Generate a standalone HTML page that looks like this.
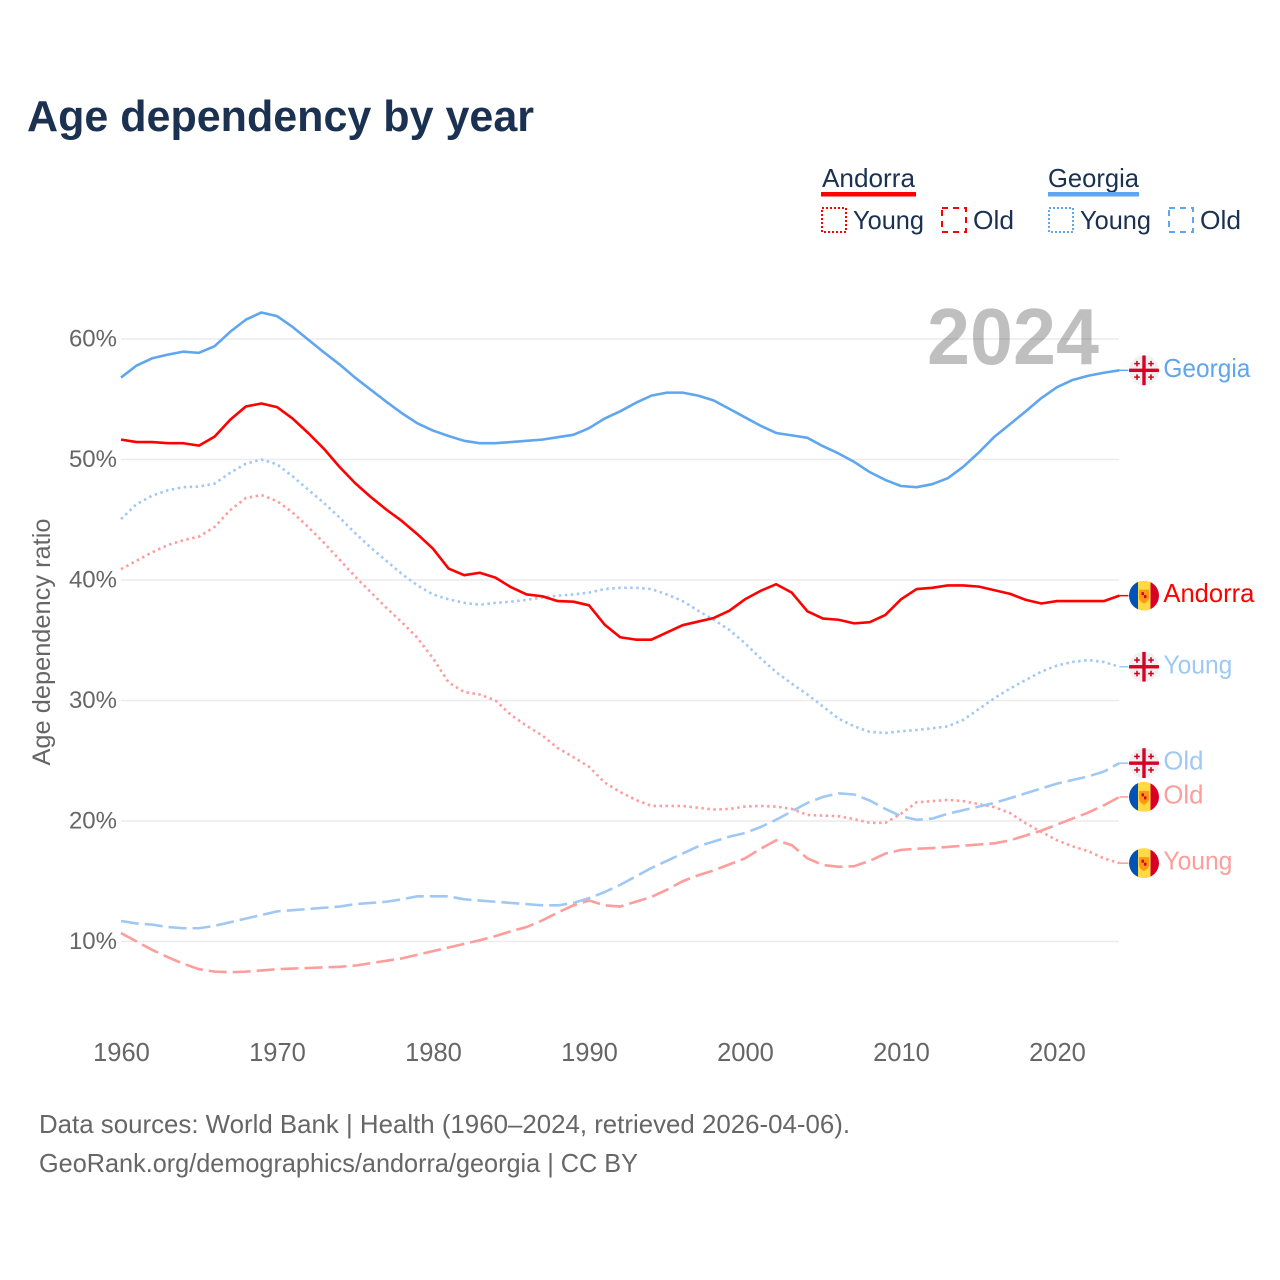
<!DOCTYPE html>
<html lang="en">
<head>
<meta charset="utf-8">
<title>Age dependency by year</title>
<style>
html,body{margin:0;padding:0;background:#fff;}
svg{display:block;font-family:"Liberation Sans",sans-serif;}
</style>
</head>
<body>
<svg id="chart" xmlns="http://www.w3.org/2000/svg" width="1280" height="1280" viewBox="0 0 1280 1280">
  <defs>
    <clipPath id="flag-clip"><circle cx="15" cy="15" r="15"/></clipPath>
    <symbol id="flag-georgia" viewBox="0 0 30 30" width="30" height="30">
      <g clip-path="url(#flag-clip)">
        <rect width="30" height="30" fill="#f0f0f0"/>
        <rect x="13.300" width="3.400" height="30" fill="#d80027"/>
        <rect y="13.300" width="30" height="3.400" fill="#d80027"/>
        <path d="M7.200 5.500h1.600v2h2v1.600h-2v2H7.200v-2h-2V7.500h2zM21.200 5.500h1.600v2h2v1.600h-2v2h-1.600v-2h-2V7.500h2zM7.200 19h1.600v2h2v1.600h-2v2H7.200v-2h-2V21h2zM21.200 19h1.600v2h2v1.600h-2v2h-1.600v-2h-2V21h2z" fill="#d80027"/>
      </g>
    </symbol>
    <symbol id="flag-andorra" viewBox="0 0 30 30" width="30" height="30">
      <g clip-path="url(#flag-clip)">
        <rect width="9" height="30" fill="#0052b4"/>
        <rect x="9" width="12.500" height="30" fill="#ffda44"/>
        <rect x="21.500" width="8.500" height="30" fill="#d80027"/>
        <path d="M10 9h10v8q0 3.500-5 6q-5-2.500-5-6z" fill="#ff9811"/>
        <rect x="12.500" y="11.500" width="2.500" height="3" fill="#d80027"/>
        <rect x="15" y="14.500" width="2.500" height="3" fill="#d80027"/>
      </g>
    </symbol>
  </defs>

  <text x="27" y="131" font-size="44" font-weight="700" fill="#1a3152" textLength="507" lengthAdjust="spacingAndGlyphs">Age dependency by year</text>

  <g fill="#1a3152" font-size="26">
    <g>
      <text x="822" y="187" textLength="93" lengthAdjust="spacingAndGlyphs">Andorra</text>
      <rect x="821" y="192" width="95" height="4.500" fill="#ff0000"/>
      <rect x="822" y="208" width="24" height="24" fill="none" stroke="#ff0000" stroke-width="2" stroke-dasharray="2 2"/>
      <text x="853" y="229" textLength="71" lengthAdjust="spacingAndGlyphs">Young</text>
      <rect x="942" y="208" width="24" height="24" fill="none" stroke="#ff0000" stroke-width="2" stroke-dasharray="6 5"/>
      <text x="973" y="229" textLength="41" lengthAdjust="spacingAndGlyphs">Old</text>
    </g>
    <g>
      <text x="1048" y="187" textLength="91" lengthAdjust="spacingAndGlyphs">Georgia</text>
      <rect x="1048" y="192" width="91" height="4.500" fill="#5fa5ef"/>
      <rect x="1049" y="208" width="24" height="24" fill="none" stroke="#5fa5ef" stroke-width="2" stroke-dasharray="2 2"/>
      <text x="1080" y="229" textLength="71" lengthAdjust="spacingAndGlyphs">Young</text>
      <rect x="1169" y="208" width="24" height="24" fill="none" stroke="#5fa5ef" stroke-width="2" stroke-dasharray="6 5"/>
      <text x="1200" y="229" textLength="41" lengthAdjust="spacingAndGlyphs">Old</text>
    </g>
  </g>

  <g id="grid"></g>
  <text x="927" y="364" font-size="80" font-weight="700" fill="#000" fill-opacity="0.25" textLength="172" lengthAdjust="spacingAndGlyphs">2024</text>
  <g id="y-axis"></g>
  <g id="x-axis"></g>
  <text transform="translate(50 642) rotate(-90)" text-anchor="middle" font-size="25" fill="#666" textLength="247" lengthAdjust="spacingAndGlyphs">Age dependency ratio</text>
  <g id="series"></g>
  <g id="end-labels"></g>

  <g font-size="26" fill="#666">
    <text x="39" y="1133" textLength="811" lengthAdjust="spacingAndGlyphs">Data sources: World Bank | Health (1960–2024, retrieved 2026-04-06).</text>
    <text x="39" y="1172" textLength="599" lengthAdjust="spacingAndGlyphs">GeoRank.org/demographics/andorra/georgia | CC BY</text>
  </g>
</svg>
<script>
const startYear = 1960;
const xTickLabels = [1960, 1970, 1980, 1990, 2000, 2010, 2020];
const yTickLabels = [10, 20, 30, 40, 50, 60];

const georgiaTotal = [
  56.8,57.8,58.4,58.7,58.95,58.85,59.4,60.6,61.6,62.2,
  61.9,61.0,59.95,58.9,57.9,56.8,55.8,54.8,53.85,53.0,
  52.4,51.95,51.55,51.35,51.35,51.45,51.55,51.65,51.85,52.05,
  52.6,53.4,54.0,54.7,55.3,55.55,55.55,55.3,54.9,54.2,
  53.5,52.8,52.2,52.0,51.8,51.1,50.5,49.8,48.95,48.3,
  47.8,47.7,47.95,48.45,49.4,50.6,51.9,52.95,54.0,55.1,
  56.0,56.6,56.95,57.2,57.4
];
const andorraTotal = [
  51.65,51.45,51.45,51.35,51.35,51.15,51.9,53.3,54.4,54.65,
  54.35,53.4,52.2,50.9,49.4,48.05,46.9,45.85,44.9,43.8,
  42.6,40.95,40.4,40.6,40.2,39.4,38.8,38.65,38.25,38.2,
  37.9,36.3,35.25,35.05,35.05,35.65,36.25,36.55,36.85,37.45,
  38.4,39.1,39.65,38.95,37.4,36.8,36.7,36.4,36.5,37.1,
  38.4,39.25,39.35,39.55,39.55,39.45,39.15,38.85,38.35,38.05,
  38.25,38.25,38.25,38.25,38.7
];
const georgiaYoung = [
  45.06,46.3,47.0,47.45,47.7,47.75,48.0,48.9,49.65,50.0,
  49.6,48.6,47.5,46.4,45.2,43.9,42.7,41.6,40.5,39.55,
  38.8,38.4,38.1,37.95,38.1,38.2,38.35,38.55,38.7,38.8,
  38.95,39.25,39.35,39.35,39.25,38.8,38.25,37.45,36.7,35.85,
  34.75,33.5,32.35,31.4,30.5,29.5,28.5,27.85,27.4,27.3,
  27.45,27.55,27.7,27.85,28.4,29.3,30.2,31.0,31.7,32.4,
  32.9,33.2,33.35,33.2,32.8
];
const andorraYoung = [
  40.9,41.6,42.3,42.9,43.3,43.6,44.4,45.8,46.8,47.05,
  46.55,45.6,44.4,43.1,41.7,40.3,39.0,37.7,36.5,35.2,
  33.5,31.5,30.7,30.5,30.0,28.8,27.9,27.1,26.05,25.3,
  24.5,23.2,22.4,21.75,21.25,21.25,21.25,21.1,20.95,21.0,
  21.2,21.25,21.2,21.0,20.5,20.45,20.4,20.15,19.85,19.85,
  20.6,21.55,21.65,21.75,21.65,21.4,21.15,20.65,19.8,19.1,
  18.4,17.9,17.5,16.9,16.5
];
const georgiaOld = [
  11.7,11.5,11.4,11.2,11.1,11.1,11.3,11.6,11.9,12.2,
  12.5,12.6,12.7,12.8,12.9,13.1,13.2,13.3,13.5,13.75,
  13.75,13.75,13.5,13.4,13.3,13.2,13.1,13.0,13.0,13.2,
  13.6,14.1,14.7,15.4,16.1,16.7,17.3,17.9,18.3,18.7,
  19.0,19.5,20.1,20.8,21.5,22.0,22.3,22.2,21.7,21.0,
  20.4,20.1,20.2,20.6,20.9,21.2,21.5,21.9,22.3,22.7,
  23.1,23.4,23.7,24.1,24.8
];
const andorraOld = [
  10.7,10.0,9.3,8.7,8.15,7.7,7.5,7.45,7.5,7.6,
  7.7,7.75,7.8,7.85,7.9,8.0,8.2,8.4,8.6,8.9,
  9.2,9.5,9.8,10.1,10.45,10.85,11.2,11.75,12.4,13.0,
  13.4,13.0,12.9,13.3,13.7,14.3,15.0,15.5,15.9,16.4,
  16.9,17.7,18.4,18.0,16.9,16.35,16.2,16.25,16.7,17.3,
  17.6,17.7,17.75,17.85,17.95,18.05,18.15,18.4,18.8,19.2,
  19.7,20.2,20.7,21.3,22.0
];

const SVG_NS = 'http://www.w3.org/2000/svg';
const xScale = function (year) { return 121 + (year - 1960) * 15.6; };
const yScale = function (value) { return 941.5 - (value - 10) * 12.05; };

const seriesList = [
  { key: 'andorra-old',   values: andorraOld,   color: '#ff9c9c', dash: '18 6',    label: 'Old',     flag: 'flag-andorra', labelWidth: 40 },
  { key: 'andorra-young', values: andorraYoung, color: '#ff9c9c', dash: '2.5 3.5', label: 'Young',   flag: 'flag-andorra', labelWidth: 69 },
  { key: 'georgia-old',   values: georgiaOld,   color: '#a0c8f4', dash: '18 6',    label: 'Old',     flag: 'flag-georgia', labelWidth: 40 },
  { key: 'georgia-young', values: georgiaYoung, color: '#a0c8f4', dash: '2.5 3.5', label: 'Young',   flag: 'flag-georgia', labelWidth: 69 },
  { key: 'andorra-total', values: andorraTotal, color: '#ff0000', dash: '',        label: 'Andorra', flag: 'flag-andorra', labelWidth: 91 },
  { key: 'georgia-total', values: georgiaTotal, color: '#5fa5ef', dash: '',        label: 'Georgia', flag: 'flag-georgia', labelWidth: 87 }
];

const gridGroup = document.getElementById('grid');
const yAxisGroup = document.getElementById('y-axis');
const xAxisGroup = document.getElementById('x-axis');
const seriesGroup = document.getElementById('series');
const labelGroup = document.getElementById('end-labels');

yTickLabels.forEach(function (tick) {
  const line = document.createElementNS(SVG_NS, 'line');
  
  
  line.setAttribute('x1', 121);
  line.setAttribute('x2', 1119);
  line.setAttribute('y1', yScale(tick));
  line.setAttribute('y2', yScale(tick));
  line.setAttribute('stroke', '#ececec');
  line.setAttribute('stroke-width', '1.5');
  gridGroup.appendChild(line);

  const text = document.createElementNS(SVG_NS, 'text');
  
  
  text.setAttribute('x', 117);
  text.setAttribute('y', yScale(tick) + 7.5);
  text.setAttribute('text-anchor', 'end');
  text.setAttribute('font-size', '24');
  text.setAttribute('fill', '#666');
  text.textContent = tick + '%';
  yAxisGroup.appendChild(text);
});

xTickLabels.forEach(function (tick) {
  const text = document.createElementNS(SVG_NS, 'text');
  
  
  text.setAttribute('x', xScale(tick) + 0.5);
  text.setAttribute('y', 1061);
  text.setAttribute('text-anchor', 'middle');
  text.setAttribute('font-size', '25.5');
  text.setAttribute('fill', '#666');
  text.textContent = tick;
  xAxisGroup.appendChild(text);
});

seriesList.forEach(function (s) {
  const points = s.values.map(function (v, i) {
    return xScale(startYear + i).toFixed(2) + ',' + yScale(v).toFixed(2);
  });
  const path = document.createElementNS(SVG_NS, 'path');
  
  
  path.setAttribute('d', 'M' + points.join('L'));
  path.setAttribute('fill', 'none');
  path.setAttribute('stroke', s.color);
  path.setAttribute('stroke-width', '2.6');
  path.setAttribute('stroke-linejoin', 'round');
  if (s.dash) { path.setAttribute('stroke-dasharray', s.dash); }
  seriesGroup.appendChild(path);

  const lastValue = s.values[s.values.length - 1];
  const lastX = xScale(startYear + s.values.length - 1);
  const lastY = yScale(lastValue);

  const connector = document.createElementNS(SVG_NS, 'line');
  
  
  connector.setAttribute('x1', lastX);
  connector.setAttribute('y1', lastY);
  connector.setAttribute('x2', lastX + 9);
  connector.setAttribute('y2', lastY);
  connector.setAttribute('stroke', s.color);
  connector.setAttribute('stroke-width', '1.5');
  labelGroup.appendChild(connector);

  const flag = document.createElementNS(SVG_NS, 'use');
  
  
  flag.setAttribute('href', '#' + s.flag);
  flag.setAttribute('x', lastX + 9.6);
  flag.setAttribute('y', lastY - 15);
  flag.setAttribute('width', 30);
  flag.setAttribute('height', 30);
  labelGroup.appendChild(flag);

  const label = document.createElementNS(SVG_NS, 'text');
  
  
  label.setAttribute('x', lastX + 44);
  label.setAttribute('y', lastY + 6.5);
  label.setAttribute('font-size', '26');
  label.setAttribute('fill', s.color);
  label.setAttribute('textLength', s.labelWidth);
  label.setAttribute('lengthAdjust', 'spacingAndGlyphs');
  label.textContent = s.label;
  labelGroup.appendChild(label);
});
</script>
</body>
</html>
